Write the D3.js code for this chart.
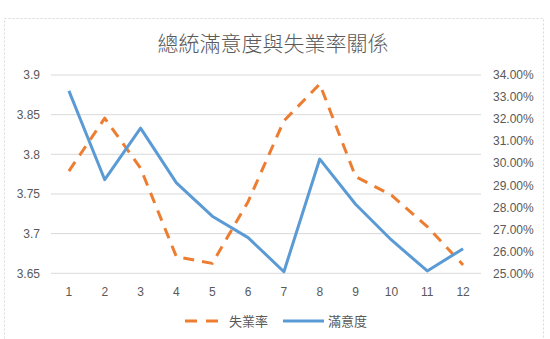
<!DOCTYPE html>
<html>
<head>
<meta charset="utf-8">
<script src="https://cdn.jsdelivr.net/npm/d3@7"></script>
<style>
  body { margin: 0; background: #fff; }
  text { font-family: "Liberation Sans", "Noto Sans CJK TC", sans-serif; }
</style>
</head>
<body>
<svg id="chart" width="550" height="339"></svg>
<script>
(function(){
  // data
  var months = ['1','2','3','4','5','6','7','8','9','10','11','12']
  var satisfaction = [3.880, 3.768, 3.833, 3.764, 3.722, 3.695, 3.652, 3.794, 3.737, 3.692, 3.653, 3.681]
  var unemployment = [0.2964, 0.3204, 0.2977, 0.2575, 0.2545, 0.2825, 0.3192, 0.3359, 0.2939, 0.2855, 0.2712, 0.2538]
  var leftTicks = [3.65, 3.7, 3.75, 3.8, 3.85, 3.9]
  var rightTicks = [0.25, 0.26, 0.27, 0.28, 0.29, 0.30, 0.31, 0.32, 0.33, 0.34]
  var title = '總統滿意度與失業率關係'

  var svg = d3.select('#chart'),
      width = +svg.attr('width'),
      height = +svg.attr('height')

  var orange = '#ED7D31', blue = '#5B9BD5', textCol = '#595959'
  var plot = {left: 51, right: 481, top: 75, bottom: 273.3}

  // chart area border (dotted, light)
  svg.append('rect')
    .attr('x', 4.5).attr('y', 18.5)
    .attr('width', 539).attr('height', height)
    .attr('fill', 'none').attr('stroke', '#d9d9d9')
    .attr('stroke-dasharray', '2,2')

  var x = d3.scaleBand().domain(months).range([plot.left, plot.right])
  var yL = d3.scaleLinear().domain([3.65, 3.9]).range([plot.bottom, plot.top])
  var yR = d3.scaleLinear().domain([0.25, 0.34]).range([plot.bottom, plot.top])

  // gridlines
  svg.append('g').selectAll('line')
    .data(leftTicks).enter().append('line')
    .attr('x1', plot.left).attr('x2', plot.right)
    .attr('y1', d => yL(d)).attr('y2', d => yL(d))
    .attr('stroke', '#d9d9d9').attr('stroke-width', 1)

  // left axis
  var gl = svg.append('g')
    .attr('transform', 'translate(' + (plot.left - 11) + ',0)')
    .call(d3.axisLeft(yL).tickValues(leftTicks).tickSize(0).tickPadding(0).tickFormat(d3.format('')))
  gl.select('.domain').remove()
  gl.selectAll('text').attr('fill', textCol).style('font-size', '12px')

  // right axis
  var gr = svg.append('g')
    .attr('transform', 'translate(' + (plot.right + 12) + ',0)')
    .call(d3.axisRight(yR).tickValues(rightTicks).tickSize(0).tickPadding(0).tickFormat(d3.format('.2%')))
  gr.select('.domain').remove()
  gr.selectAll('text').attr('fill', textCol).style('font-size', '12px')

  // bottom axis
  var gb = svg.append('g')
    .attr('transform', 'translate(0,' + (plot.bottom + 14) + ')')
    .call(d3.axisBottom(x).tickSize(0).tickPadding(0))
  gb.select('.domain').remove()
  gb.selectAll('text').attr('fill', textCol).style('font-size', '12px')

  var lineR = d3.line().x((d, i) => x(months[i]) + x.bandwidth() / 2).y(d => yR(d))
  var lineL = d3.line().x((d, i) => x(months[i]) + x.bandwidth() / 2).y(d => yL(d))

  svg.append('path')
    .attr('d', lineR(unemployment))
    .attr('fill', 'none').attr('stroke', orange).attr('stroke-width', 3)
    .attr('stroke-dasharray', '11,8').attr('stroke-linejoin', 'round')

  svg.append('path')
    .attr('d', lineL(satisfaction))
    .attr('fill', 'none').attr('stroke', blue).attr('stroke-width', 3)
    .attr('stroke-linejoin', 'round')

  // title
  svg.append('text')
    .attr('x', 273).attr('y', 51)
    .attr('text-anchor', 'middle')
    .attr('fill', textCol)
    .style('font-size', '21px')
    .style('font-weight', '300')
    .style('font-family', '"Noto Sans CJK TC", sans-serif')
    .text(title)

  // legend
  var lg = svg.append('g').attr('transform', 'translate(0,321)')
  lg.append('line').attr('x1', 185).attr('x2', 222).attr('y1', 0).attr('y2', 0)
    .attr('stroke', orange).attr('stroke-width', 3).attr('stroke-dasharray', '12,9')
  lg.append('text').attr('x', 229).attr('y', 4.5).attr('fill', textCol)
    .style('font-size', '13px').style('font-family', '"Noto Sans CJK TC", sans-serif').text('失業率')
  lg.append('line').attr('x1', 283).attr('x2', 324).attr('y1', 0).attr('y2', 0)
    .attr('stroke', blue).attr('stroke-width', 3)
  lg.append('text').attr('x', 328).attr('y', 4.5).attr('fill', textCol)
    .style('font-size', '13px').style('font-family', '"Noto Sans CJK TC", sans-serif').text('滿意度')
})()
</script>
</body>
</html>
